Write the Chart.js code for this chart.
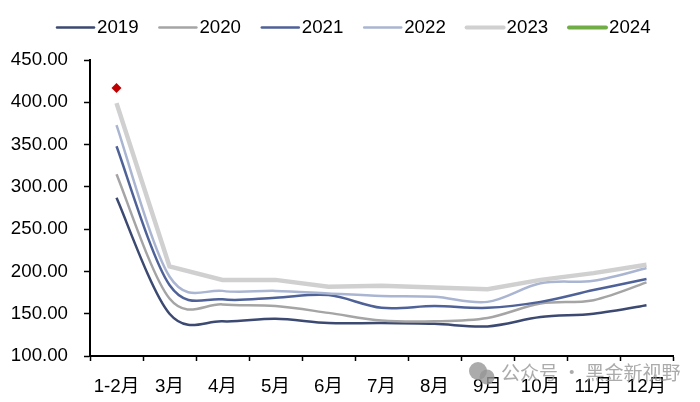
<!DOCTYPE html>
<html>
<head>
<meta charset="utf-8">
<style>
html, body { margin: 0; padding: 0; background: #fff; }
#chart { display: block; }
</style>
<script src="https://cdn.jsdelivr.net/npm/chart.js@4"></script>
</head>
<body>
<div style="width:700px;height:402px"><canvas id="chart"></canvas></div>
<script>
var months = ['1-2月', '3月', '4月', '5月', '6月', '7月', '8月', '9月', '10月', '11月', '12月'];
var yTicks = [100, 150, 200, 250, 300, 350, 400, 450];
var s2019 = [287, 150, 141, 144, 139, 139, 138, 135, 146, 150, 160];
var s2020 = [315, 168, 161, 159, 151, 142, 141, 145, 162, 166, 187];
var s2021 = [348, 184, 167, 169, 172, 157, 159, 157, 164, 178, 191];
var s2022 = [373, 194, 177, 177, 174, 171, 170, 164, 186, 189, 204];
var s2023 = [399, 206, 190, 190, 182, 183, 181, 179, 190, 198, 208];
var s2024 = [417];

var font = '"Liberation Sans", "Noto Sans CJK SC", sans-serif';

function line(label, data, color, width, smooth) {
    return { label: label, data: data, borderColor: color, borderWidth: width, tension: smooth ? 0.5 : 0, smooth: smooth, pointRadius: 0 };
}

var datasets = [
    line('2019', s2019, '#3c4a72', 2.5, true),
    line('2020', s2020, '#a5a5a5', 2.5, true),
    line('2021', s2021, '#4f6298', 2.5, true),
    line('2022', s2022, '#aab5d1', 2.5, true),
    line('2023', s2023, '#d0d0d0', 4.5, false),
    line('2024', s2024, '#70ad47', 4.5, false)
];
// the later years sit on top
datasets.forEach(function (d, i) { d.order = datasets.length - i; });
// only one reading for 2024, a red diamond
datasets[5].pointRadius = 5;
datasets[5].pointStyle = 'rectRot';
datasets[5].pointBackgroundColor = '#c00000';
datasets[5].pointBorderColor = '#c00000';
datasets[5].pointBorderWidth = 0;

// the source uses an even catmull-rom smoothing, chart.js weights by distance
var evenSmooth = {
    id: 'evenSmooth',
    beforeDatasetsDraw: function (chart) {
        chart.data.datasets.forEach(function (d, i) {
            if (!d.smooth) return;
            var meta = chart.getDatasetMeta(i);
            var p = meta.data;
            p.forEach(function (pt, k) {
                var a = p[Math.max(k - 1, 0)];
                var b = p[Math.min(k + 1, p.length - 1)];
                pt.cp1x = pt.x - (b.x - a.x) / 6;
                pt.cp1y = pt.y - (b.y - a.y) / 6;
                pt.cp2x = pt.x + (b.x - a.x) / 6;
                pt.cp2y = pt.y + (b.y - a.y) / 6;
            });
            meta.dataset._pointsUpdated = true;
        });
    }
};

// legend drawn by hand, the built in one keeps too wide a gap before the text
var legendRow = {
    id: 'legendRow',
    afterDraw: function (chart) {
        var c = chart.ctx;
        c.save();
        c.font = '18.7px ' + font;
        c.textBaseline = 'middle';
        chart.data.datasets.forEach(function (d, i) {
            var x = 57 + i * 102.4;
            c.beginPath();
            c.moveTo(x, 27.5);
            c.lineTo(x + 37, 27.5);
            c.strokeStyle = d.borderColor;
            c.lineWidth = d.borderWidth > 3 ? 4 : 2.5;
            c.lineCap = 'round';
            c.stroke();
            c.fillStyle = '#000';
            c.fillText(d.label, x + 40, 28);
        });
        c.restore();
    }
};

var watermark = {
    id: 'watermark',
    afterDraw: function (chart) {
        var c = chart.ctx;
        c.save();
        c.fillStyle = 'rgba(150,150,150,0.8)';
        c.beginPath();
        c.arc(478, 371, 9, 0, Math.PI * 2);
        c.fill();
        c.beginPath();
        c.arc(487, 377, 7.5, 0, Math.PI * 2);
        c.fill();
        c.font = '19px "Noto Sans CJK SC", sans-serif';
        c.textBaseline = 'middle';
        c.fillText('公众号 · 黑金新视野', 501, 373);
        c.restore();
    }
};

new Chart(document.getElementById('chart').getContext('2d'), {
    type: 'line',
    data: { labels: months, datasets: datasets },
    plugins: [evenSmooth, legendRow, watermark],
    options: {
        responsive: true,
        maintainAspectRatio: false,
        animation: false,
        layout: { padding: { top: 60, right: 27, left: 0, bottom: 0 } },
        plugins: { legend: { display: false }, tooltip: { enabled: false } },
        scales: {
            x: {
                offset: true,
                grid: { display: true, offset: true, drawOnChartArea: false, tickLength: 5, tickColor: '#000', tickWidth: 1.5 },
                border: { color: '#000', width: 2 },
                ticks: { color: '#000', font: { family: font, size: 18.7 }, padding: 15, maxRotation: 0, autoSkip: false },
                afterFit: function (s) { s.height = 46; }
            },
            y: {
                min: yTicks[0],
                max: yTicks[yTicks.length - 1],
                afterBuildTicks: function (s) { s.ticks = yTicks.map(function (v) { return { value: v }; }); },
                grid: { display: true, drawOnChartArea: false, tickLength: 6, tickColor: '#000', tickWidth: 1.5 },
                border: { color: '#000', width: 2 },
                ticks: {
                    color: '#000',
                    font: { family: font, size: 18.7 },
                    padding: 16,
                    callback: function (v) { return Number(v).toFixed(2); }
                },
                afterFit: function (s) { s.width = 90; }
            }
        }
    }
});
</script>
</body>
</html>
